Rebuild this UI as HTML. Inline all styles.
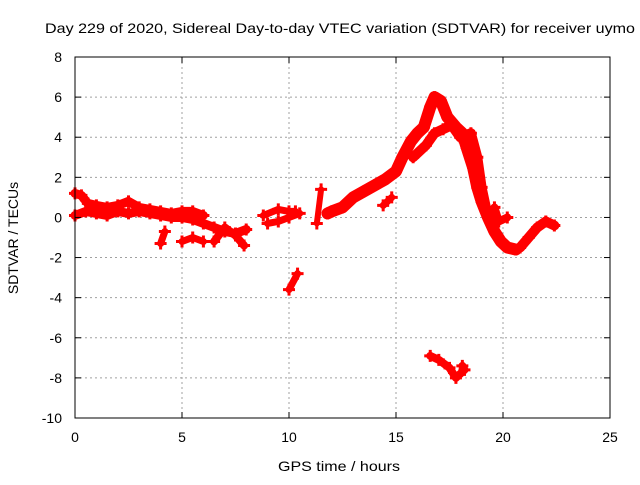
<!DOCTYPE html>
<html><head><meta charset="utf-8"><style>
body{margin:0;background:#fff;font-family:"Liberation Sans",sans-serif}
svg text{font-family:"Liberation Sans",sans-serif;font-size:14px;fill:#000}
</style></head><body>
<svg id="chart" width="640" height="480" xmlns="http://www.w3.org/2000/svg">
<rect width="640" height="480" fill="#fff"/>
<text x="45" y="33" textLength="590" lengthAdjust="spacingAndGlyphs" font-size="15">Day 229 of 2020, Sidereal Day-to-day VTEC variation (SDTVAR) for receiver uymo</text>
<text x="278" y="471" textLength="122" lengthAdjust="spacingAndGlyphs" font-size="15">GPS time / hours</text>
<text transform="translate(18,238) rotate(-90)" text-anchor="middle" font-size="15">SDTVAR / TECUs</text>
<g id="grid"></g><g id="marks"></g><g id="axes"></g>
</svg>
<script>
const xTicks=[0,5,10,15,20,25];
const yTicks=[8,6,4,2,0,-2,-4,-6,-8,-10];
const tracksX=[
[0,0.3,0.6,1,1.5,2,2.5,3,3.5,4,4.5,5,5.5,6],
[0,0.5,1,1.5,2,2.5,3,3.5,4,4.5,5,5.5,6,6.5,7,7.5,8],
[4,4.2],
[5,5.5,6],
[6.5,7,7.5,7.9],
[8.8,9.5,10,10.3],
[9,9.5,10,10.5],
[10,10.4],
[11.3,11.5],
[11.8,12,12.5,13,13.5,14,14.5,15,15.3,15.7,16,16.3,16.6,16.8,17.1,17.4,17.8,18.1,18.3,18.6,18.8,19,19.3,19.6,19.9,20.2,20.6],
[14.4,14.8],
[15.8,16.4,16.8,17.2,17.6,18,18.5,18.8,19,19.2],
[19.6,19.8,20.2],
[20.8,21.2,21.6,22,22.4],
[16.6,17,17.5,17.8,18.2,18.1]
];
const tracksY=[
[1.2,1.1,0.7,0.6,0.5,0.6,0.8,0.5,0.4,0.3,0.2,0.3,0.3,0.1],
[0.1,0.3,0.2,0.1,0.3,0.2,0.3,0.2,0.1,0,0,-0.1,-0.3,-0.5,-0.7,-0.8,-0.6],
[-1.3,-0.7],
[-1.2,-1.0,-1.2],
[-1.2,-0.5,-0.9,-1.4],
[0.1,0.4,0.3,0.3],
[-0.3,-0.2,0,0.2],
[-3.6,-2.8],
[-0.3,1.4],
[0.2,0.3,0.5,1.0,1.3,1.6,1.9,2.3,3,3.8,4.2,4.5,5.5,6,5.8,5,4.5,4.2,3.5,2.5,1.5,0.8,0,-0.7,-1.2,-1.5,-1.6],
[0.6,1.0],
[3.0,3.6,4.2,4.4,4.6,4.0,4.2,3.0,1.5,0.5],
[0.5,-0.2,0],
[-1.5,-1.0,-0.5,-0.2,-0.4],
[-6.9,-7.1,-7.5,-8,-7.6,-7.4]
];
const trackWidths=[9,9,7,7,8,7,7,7,6,12,7,10,8,10,8];
const X0=75,X1=610,Y0=418,Y1=57;
const sx=v=>X0+(v-0)/(25-0)*(X1-X0);
const sy=v=>Y0-(v-(-10))/(8-(-10))*(Y0-Y1);
const NS="http://www.w3.org/2000/svg";
const grid=document.getElementById('grid'),axes=document.getElementById('axes'),marks=document.getElementById('marks');
function mk(tag,at,parent){const e=document.createElementNS(NS,tag);for(const k in at)e.setAttribute(k,at[k]);parent.appendChild(e);return e;}
xTicks.forEach(t=>{
 const x=sx(t);
 if(t>0&&t<25){const l=mk('line',{x1:x,x2:x,y1:Y1,y2:Y0,stroke:'#a0a0a0','stroke-dasharray':'2,3'},grid);
 
 }
 mk('line',{x1:x,x2:x,y1:Y0,y2:Y0-6,stroke:'#000'},axes);
 mk('line',{x1:x,x2:x,y1:Y1,y2:Y1+6,stroke:'#000'},axes);
 const tx=mk('text',{x:x,y:Y0+24,'text-anchor':'middle'},axes);tx.textContent=t;
 
 
});
yTicks.forEach(t=>{
 const y=sy(t);
 if(t>-10&&t<8){const l=mk('line',{x1:X0,x2:X1,y1:y,y2:y,stroke:'#a0a0a0','stroke-dasharray':'2,3'},grid);
 
 }
 mk('line',{x1:X0,x2:X0+6,y1:y,y2:y,stroke:'#000'},axes);
 mk('line',{x1:X1,x2:X1-6,y1:y,y2:y,stroke:'#000'},axes);
 const tx=mk('text',{x:X0-13,y:y+5,'text-anchor':'end'},axes);tx.textContent=t;
 
 
});
const fr=mk('rect',{x:X0,y:Y1,width:X1-X0,height:Y0-Y1,fill:'none',stroke:'#000'},axes);


tracksX.forEach((xs,i)=>{
 const ys=tracksY[i];
 const pts=xs.map((x,j)=>sx(x)+','+sy(ys[j])).join(' ');
 const pl=mk('polyline',{points:pts,fill:'none',stroke:'#f00','stroke-width':trackWidths[i],'stroke-linejoin':'round','stroke-linecap':'round'},marks);
 
 
 xs.forEach((x,j)=>{
  const cx=sx(x),cy=sy(ys[j]);
  const p=mk('path',{d:`M${cx-6},${cy}H${cx+6}M${cx},${cy-6}V${cy+6}`,stroke:'#f00','stroke-width':3},marks);
  
  
 });
});
</script>
</body></html>
